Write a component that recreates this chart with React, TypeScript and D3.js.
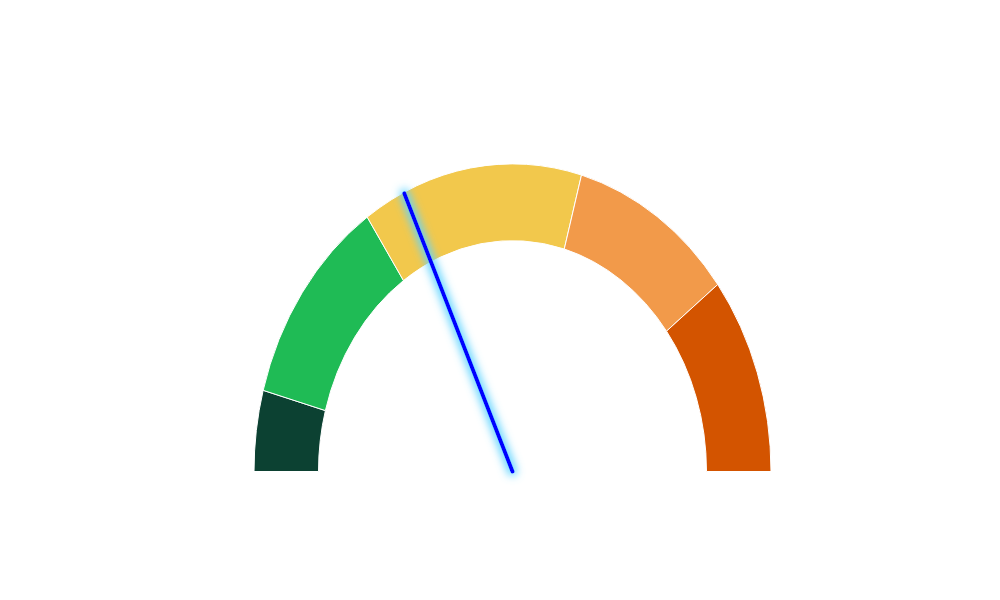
import React, { useEffect, useRef } from 'react';
import * as d3 from 'd3';

// gauge bands (value range 0-100)
const bandStops = [0, 8.5, 31, 58.6, 79.2, 100];
const bandColors = ['#0c4132', '#1fbb55', '#f2c84c', '#f29a4a', '#d35400'];
const needleValue = 36.2;

export default function App() {
    const svgRef = useRef<SVGSVGElement>(null);

    const width = 1000;
    const height = 600;
    const cx = 512.5;
    const cy = 471.5;
    const outerR = 258.5;
    const innerR = 194;
    const yStretch = 1.19;

    useEffect(() => {
        const svg = d3.select(svgRef.current);
        svg.selectAll('*').remove();

        const angle = d3.scaleLinear()
            .domain([0, 100])
            .range([-Math.PI / 2, Math.PI / 2]);

        const defs = svg.append('defs');
        const glow = defs.append('filter')
            .attr('id', 'needle-glow')
            .attr('x', '-50%').attr('y', '-50%')
            .attr('width', '200%').attr('height', '200%');
        glow.append('feMorphology')
            .attr('in', 'SourceAlpha')
            .attr('operator', 'dilate')
            .attr('radius', 2)
            .attr('result', 'thick');
        glow.append('feGaussianBlur')
            .attr('in', 'thick')
            .attr('stdDeviation', 4)
            .attr('result', 'blur');
        glow.append('feFlood').attr('flood-color', '#5fd3ff').attr('flood-opacity', 1);
        glow.append('feComposite').attr('in2', 'blur').attr('operator', 'in').attr('result', 'shadow');
        const merge = glow.append('feMerge');
        merge.append('feMergeNode').attr('in', 'shadow');
        merge.append('feMergeNode').attr('in', 'SourceGraphic');

        const bands = d3.range(bandColors.length).map(i => ({
            start: bandStops[i],
            end: bandStops[i + 1],
            color: bandColors[i]
        }));

        const arc = d3.arc<any>()
            .innerRadius(innerR)
            .outerRadius(outerR)
            .startAngle(d => angle(d.start))
            .endAngle(d => angle(d.end));

        svg.append('g')
            .attr('transform', `translate(${cx}, ${cy}) scale(1, ${yStretch})`)
            .selectAll('path')
            .data(bands)
            .enter()
            .append('path')
            .attr('d', arc)
            .attr('fill', d => d.color)
            .attr('stroke', '#ffffff')
            .attr('stroke-width', 1)
            .attr('vector-effect', 'non-scaling-stroke');

        // needle
        const a = angle(needleValue);
        const tipX = cx + (outerR - 1) * Math.sin(a);
        const tipY = cy - (outerR - 1) * Math.cos(a) * yStretch;

        svg.append('line')
            .attr('x1', cx)
            .attr('y1', cy)
            .attr('x2', tipX)
            .attr('y2', tipY)
            .attr('stroke', '#0000ff')
            .attr('stroke-width', 4)
            .attr('stroke-linecap', 'round')
            .attr('filter', 'url(#needle-glow)');
    }, []);

    return (
        <svg
            ref={svgRef}
            width={width}
            height={height}
            style={{ position: 'absolute', left: 0, top: 0, background: '#ffffff' }}
        />
    );
}
